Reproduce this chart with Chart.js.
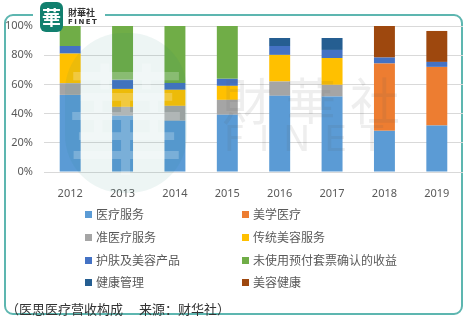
<!DOCTYPE html>
<html><head><meta charset="utf-8">
<script src="https://cdn.jsdelivr.net/npm/chart.js@4"></script>
<style>
html,body{margin:0;padding:0;background:#fff;}
#wrap{position:relative;width:466px;height:322px;overflow:hidden;font-family:"Noto Sans CJK SC","Noto Sans",sans-serif;}
#frame{position:absolute;left:4px;top:14px;width:455px;height:297px;border:2px solid #5db6b0;border-radius:9px;}
#gap{position:absolute;left:33px;top:10px;width:72px;height:10px;background:#fff;}
#logoBox{position:absolute;left:40px;top:2px;width:23px;height:30px;background:#12806f;border-radius:6px;color:#fff;font:bold 19px "Noto Sans CJK SC";text-align:center;line-height:30px;z-index:5;}
#logoT1{position:absolute;left:68px;top:8px;font:bold 9px "Noto Sans CJK SC";color:#333;line-height:10px;z-index:5;}
#logoT2{position:absolute;left:68px;top:19px;font:bold 7px "DejaVu Sans";color:#333;letter-spacing:1.5px;line-height:7px;z-index:5;}
canvas{position:absolute;left:0;top:0;}
#wm1{position:absolute;left:65px;top:33px;width:122px;height:160px;border-radius:58px;background:rgba(20,130,115,0.08);color:rgba(255,255,255,0.22);font:120px "Noto Sans CJK SC";text-align:center;line-height:160px;pointer-events:none;}
#wm2{position:absolute;left:222px;top:62px;font:50px "Noto Sans CJK SC";color:rgba(90,90,90,0.10);letter-spacing:14px;pointer-events:none;}
#wm3{position:absolute;left:224px;top:118px;font:36px "DejaVu Sans";color:rgba(90,90,90,0.10);letter-spacing:14px;pointer-events:none;}
#legend{position:absolute;left:0;top:0;}
.li{position:absolute;font-size:12px;color:#595959;white-space:nowrap;line-height:14px;}
.li span{display:inline-block;width:7px;height:7px;margin-right:4px;vertical-align:1px;}
#foot{position:absolute;left:6px;top:301px;font-size:13px;color:#333;white-space:nowrap;line-height:16px;}
</style></head>
<body>
<div id="wrap">
<div id="frame"></div>
<div id="gap"></div>
<canvas id="c" width="466" height="322"></canvas>
<div id="wm1">華</div>
<div id="wm2">財華社</div>
<div id="wm3">FINET</div>
<div id="logoBox">華</div>
<div id="logoT1">財華社</div>
<div id="logoT2">FINET</div>
<div id="legend"></div>
<div id="foot">（医思医疗营收构成　 来源：财华社）</div>
</div>
<script>
const categories = ["2012","2013","2014","2015","2016","2017","2018","2019"];
const seriesNames = ["医疗服务","美学医疗","准医疗服务","传统美容服务","护肤及美容产品","未使用预付套票确认的收益","健康管理","美容健康"];
const medicalService   = [52.8, 38.5, 35.1, 39.2, 52.2, 51.7, 28.2, 31.9];
const aestheticMedical = [0, 0, 0, 0, 0, 0, 46.1, 40.1];
const quasiMedical     = [8.0, 6.1, 10.2, 10.2, 9.8, 8.0, 0, 0];
const traditionalBeauty= [20.3, 12.3, 11.0, 9.6, 18.2, 18.4, 0, 0];
const skincareProducts = [5.2, 6.2, 4.7, 4.8, 6.1, 5.5, 4.1, 3.4];
const unusedPrepaid    = [13.7, 36.9, 39.0, 36.2, 0, 0, 0, 0];
const healthManagement = [0, 0, 0, 0, 5.5, 8.2, 0, 0];
const beautyWellness   = [0, 0, 0, 0, 0, 0, 21.6, 21.2];
const yTicks = [0, 20, 40, 60, 80, 100];

const colors = ["#5B9BD5","#ED7D31","#A5A5A5","#FFC000","#4472C4","#70AD47","#255E91","#9E480E"];
const seriesData = [medicalService, aestheticMedical, quasiMedical, traditionalBeauty, skincareProducts, unusedPrepaid, healthManagement, beautyWellness];

const chart = new Chart(document.getElementById('c'), {
  type: 'bar',
  data: {
    labels: categories,
    datasets: seriesNames.map((n, i) => ({
      label: n, data: seriesData[i], backgroundColor: colors[i],
      borderWidth: 0, barPercentage: 0.4, categoryPercentage: 1.0
    }))
  },
  options: {
    responsive: false, animation: false,
    layout: { padding: { left: 0, right: 3, top: 26, bottom: 0 } },
    plugins: { legend: { display: false }, tooltip: { enabled: false } },
    scales: {
      x: {
        stacked: true,
        grid: { display: false }, border: { display: false },
        ticks: { color: '#595959', font: { family: '"Noto Sans"', size: 11 }, padding: 7 },
        afterFit: s => { s.height = 150; }
      },
      y: {
        stacked: true, min: 0, max: 100,
        afterBuildTicks: s => { s.ticks = yTicks.map(v => ({ value: v })); },
        grid: { color: '#d9d9d9', drawTicks: false }, border: { display: false },
        ticks: { color: '#595959', font: { family: '"Noto Sans"', size: 11 }, padding: 11, callback: v => v + '%' },
        afterFit: s => { s.width = 44; }
      }
    }
  }
});

const lg = document.getElementById('legend');
const colX = [85, 242];
const rowY = [214, 236.7, 259.5, 282];
chart.data.datasets.forEach((ds, i) => {
  const d = document.createElement('div');
  d.className = 'li';
  d.style.left = colX[i % 2] + 'px';
  d.style.top = (rowY[Math.floor(i / 2)] - 7) + 'px';
  d.innerHTML = '<span style="background:' + ds.backgroundColor + '"></span>' + ds.label;
  lg.appendChild(d);
});
</script>
</body></html>
